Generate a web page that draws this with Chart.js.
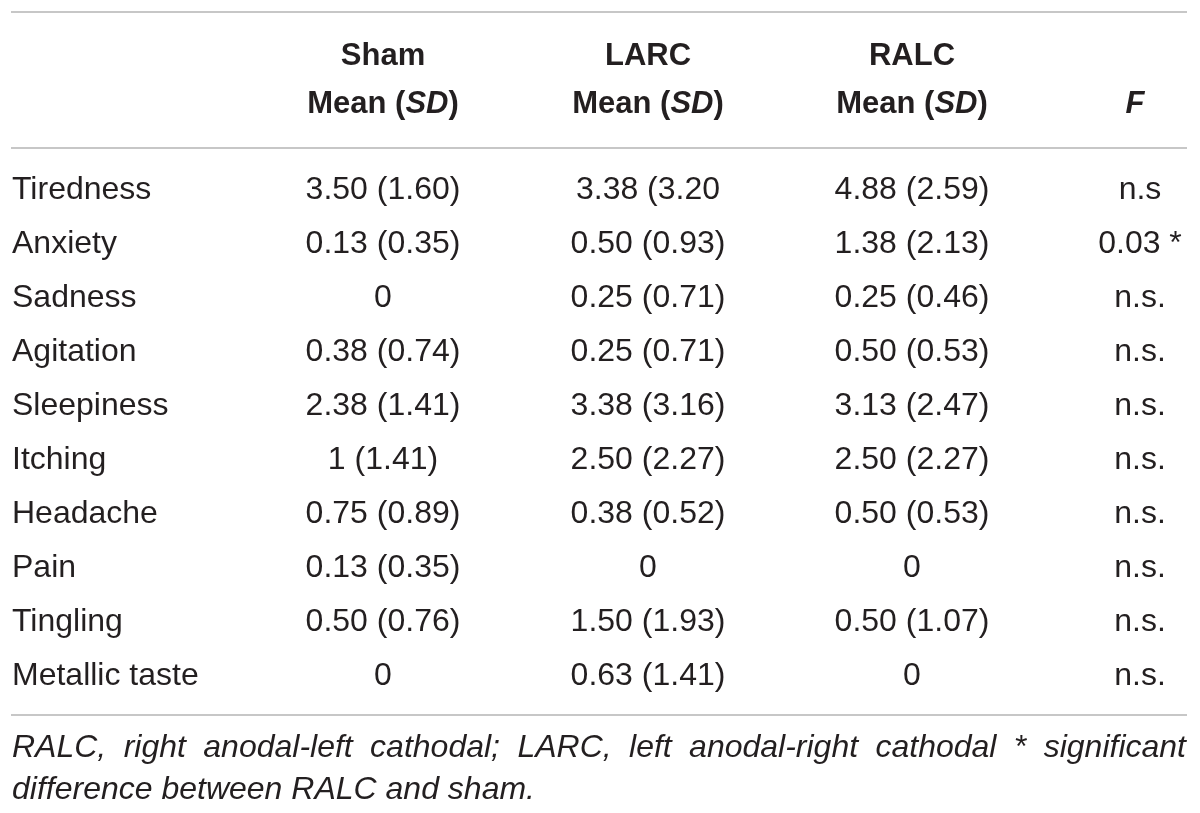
<!DOCTYPE html>
<html>
<head>
<meta charset="utf-8">
<script src="https://cdn.jsdelivr.net/npm/chart.js@4.4.1/dist/chart.umd.min.js"></script>
<style>
  html, body { margin: 0; padding: 0; background: #ffffff; }
  #wrap { width: 1200px; height: 813px; position: relative; }
</style>
</head>
<body>
<div id="wrap"><canvas id="c" width="1200" height="813"></canvas></div>
<script>
// ---- Data ----
const rowLabels = ['Tiredness', 'Anxiety', 'Sadness', 'Agitation', 'Sleepiness', 'Itching', 'Headache', 'Pain', 'Tingling', 'Metallic taste'];
const groupNames = ['Sham', 'LARC', 'RALC'];
const statHeader = 'Mean';
const statHeaderSD = 'SD';
const fHeader = 'F';
const shamCells = ['3.50 (1.60)', '0.13 (0.35)', '0', '0.38 (0.74)', '2.38 (1.41)', '1 (1.41)', '0.75 (0.89)', '0.13 (0.35)', '0.50 (0.76)', '0'];
const larcCells = ['3.38 (3.20', '0.50 (0.93)', '0.25 (0.71)', '0.25 (0.71)', '3.38 (3.16)', '2.50 (2.27)', '0.38 (0.52)', '0', '1.50 (1.93)', '0.63 (1.41)'];
const ralcCells = ['4.88 (2.59)', '1.38 (2.13)', '0.25 (0.46)', '0.50 (0.53)', '3.13 (2.47)', '2.50 (2.27)', '0.50 (0.53)', '0', '0.50 (1.07)', '0'];
const fCells = ['n.s', '0.03 *', 'n.s.', 'n.s.', 'n.s.', 'n.s.', 'n.s.', 'n.s.', 'n.s.', 'n.s.'];
const footnoteLine1 = 'RALC, right anodal-left cathodal; LARC, left anodal-right cathodal * significant';
const footnoteLine2 = 'difference between RALC and sham.';

// ---- Layout (positions / styles) ----
const LAYOUT = {
  left: 11, right: 1187,
  colCenters: [383, 648, 912, 1140],   // Sham, LARC, RALC, F column centres
  labelX: 12,
  textColor: '#231f20',
  ruleColor: '#b5b5b5',
  fontFamily: '"Liberation Sans", Arial, Helvetica, sans-serif',
  bodySize: 32, headSize: 31, noteSize: 32
};

const FONT = LAYOUT.fontFamily;
const columns = [rowLabels, shamCells, larcCells, ralcCells, fCells];
const colX = [LAYOUT.labelX].concat(LAYOUT.colCenters);

const datasets = columns.map((cells, c) => ({
  label: c === 0 ? 'labels' : (c <= 3 ? groupNames[c - 1] : fHeader),
  data: rowLabels.map((r, i) => ({ x: colX[c], y: r, text: cells[i] })),
  pointRadius: 0, pointHoverRadius: 0, showLine: false,
  align: c === 0 ? 'left' : 'center'
}));

function drawMixed(ctx, parts, cx, y, size) {
  let total = 0;
  parts.forEach(p => {
    ctx.font = (p.italic ? 'italic ' : '') + 'bold ' + size + 'px ' + FONT;
    p.w = ctx.measureText(p.t).width; total += p.w;
  });
  let x = cx - total / 2;
  ctx.textAlign = 'left';
  parts.forEach(p => {
    ctx.font = (p.italic ? 'italic ' : '') + 'bold ' + size + 'px ' + FONT;
    ctx.fillText(p.t, x, y); x += p.w;
  });
}

const tablePlugin = {
  id: 'tableText',
  afterDatasetsDraw(chart) {
    const ctx = chart.ctx;
    const ys = chart.scales.y;
    const y0 = ys.getPixelForValue(0);
    const yN = ys.getPixelForValue(rowLabels.length - 1);
    ctx.save();
    ctx.fillStyle = LAYOUT.textColor;
    ctx.textBaseline = 'alphabetic';

    // body cells, drawn at the positions the scales give each point
    chart.data.datasets.forEach((ds, di) => {
      const meta = chart.getDatasetMeta(di);
      ctx.font = LAYOUT.bodySize + 'px ' + FONT;
      ctx.textAlign = ds.align;
      meta.data.forEach((el, i) => {
        ctx.fillText(ds.data[i].text, el.x, el.y);
      });
    });

    // header
    const h1 = y0 - 134, h2 = y0 - 86;
    groupNames.forEach((g, i) => {
      ctx.font = 'bold ' + LAYOUT.headSize + 'px ' + FONT;
      ctx.textAlign = 'center';
      ctx.fillText(g, LAYOUT.colCenters[i], h1);
      drawMixed(ctx, [{ t: statHeader + ' (' }, { t: statHeaderSD, italic: true }, { t: ')' }], LAYOUT.colCenters[i], h2, LAYOUT.headSize);
    });
    drawMixed(ctx, [{ t: fHeader, italic: true }], LAYOUT.colCenters[3] - 5, h2, LAYOUT.headSize);

    // rules
    ctx.strokeStyle = LAYOUT.ruleColor;
    ctx.lineWidth = 1.6;
    [y0 - 187, y0 - 51, yN + 30].forEach(y => {
      ctx.beginPath(); ctx.moveTo(LAYOUT.left, y); ctx.lineTo(LAYOUT.right, y); ctx.stroke();
    });

    // footnote (first line justified)
    ctx.font = 'italic ' + LAYOUT.noteSize + 'px ' + FONT;
    ctx.textAlign = 'left';
    const words = footnoteLine1.split(' ');
    const ww = words.map(w => ctx.measureText(w).width);
    const sum = ww.reduce((a, b) => a + b, 0);
    const avail = (LAYOUT.right - 1) - LAYOUT.labelX;
    const gap = (avail - sum) / (words.length - 1);
    let x = LAYOUT.labelX;
    const f1 = yN + 72, f2 = yN + 114;
    words.forEach((w, i) => { ctx.fillText(w, x, f1); x += ww[i] + gap; });
    ctx.fillText(footnoteLine2, LAYOUT.labelX, f2);
    ctx.restore();
  }
};

new Chart(document.getElementById('c'), {
  type: 'scatter',
  data: { datasets },
  options: {
    responsive: false,
    animation: false,
    events: [],
    layout: { padding: { top: 172, bottom: 101, left: 0, right: 0 } },
    plugins: { legend: { display: false }, tooltip: { enabled: false } },
    scales: {
      x: { type: 'linear', min: 0, max: 1200, display: false },
      y: { type: 'category', labels: rowLabels, offset: true, display: false }
    }
  },
  plugins: [tablePlugin]
});
</script>
</body>
</html>
